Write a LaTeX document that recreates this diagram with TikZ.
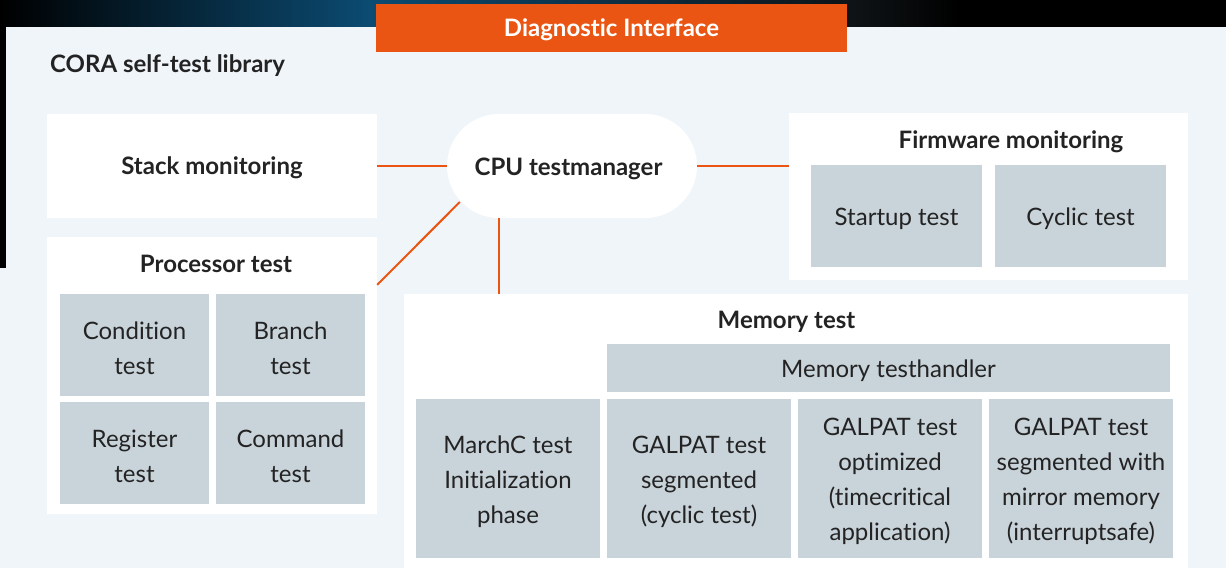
\documentclass[tikz,border=0pt]{standalone}
\usepackage{fontspec}
\setmainfont{Lato}[RawFeature={-liga,-dlig}]
\usetikzlibrary{calc,fit}
\definecolor{orng}{HTML}{EA5513}
\definecolor{panel}{HTML}{F0F5FA}
\definecolor{greyb}{HTML}{C8D3DA}
\definecolor{txt}{HTML}{232323}
\definecolor{blu}{HTML}{0C4B72}
\definecolor{dk}{HTML}{0E1215}
\begin{document}
\begin{tikzpicture}[x=1pt,y=-1pt,
  every node/.style={text=txt, font=\fontsize{24}{35}\selectfont},
  wbox/.style={fill=white, inner sep=0pt},
  gbox/.style={fill=greyb, inner sep=0pt},
  lbl/.style={inner sep=0pt, align=center, yshift=-3pt},
  ttl/.style={font=\fontsize{24}{35}\selectfont\bfseries, anchor=base, inner sep=0pt},
  conn/.style={draw=orng, line width=2pt}]
\useasboundingbox (0,0) rectangle (1226,568);
% background
\shade[left color=black, right color=blu] (0,0) rectangle (370,27);
\shade[left color=blu, right color=dk] (370,0) rectangle (860,27);
\shade[left color=dk, right color=black] (860,0) rectangle (960,27);
\fill[black] (960,0) rectangle (1226,27);
\fill[panel] (0,27) rectangle (1226,568);
\fill[black] (0,27) rectangle (6,268);
% header
\node[fill=orng, inner sep=0pt, fit={(376,4)(847,52)}] (diag) {};
\node[ttl, text=white] (diagt) at (611.5,36) {Diagnostic Interface};
\node[ttl, anchor=base west] (lib) at (50,72) {CORA self-test library};
% stack monitoring
\node[wbox, fit={(47,114)(377,218)}] (stack) {};
\node[ttl] (stackt) at (212,174.5) {Stack monitoring};
% CPU testmanager
\node[wbox, rounded corners=52pt, minimum width=250pt, minimum height=104pt] (cpu) at (572,166) {};
\node[ttl] (cput) at (568.5,175.5) {CPU testmanager};
% firmware monitoring
\node[wbox, fit={(789,113)(1188,280)}] (fw) {};
\node[ttl] (fwt) at (1011,148) {Firmware monitoring};
\node[gbox, fit={(811,165)(982,267)}] (st) {};
\node[lbl] at (st) {Startup test};
\node[gbox, fit={(995,165)(1166,267)}] (cy) {};
\node[lbl] at (cy) {Cyclic test};
% processor test
\node[wbox, fit={(47,237)(377,514)}] (proc) {};
\node[ttl] (proct) at (216,272) {Processor test};
\node[gbox, fit={(60,294)(209,396)}] (cond) {};
\node[lbl] at (cond) {Condition\\test};
\node[gbox, fit={(216,294)(365,396)}] (bra) {};
\node[lbl] at (bra) {Branch\\test};
\node[gbox, fit={(60,402)(209,504)}] (reg) {};
\node[lbl] at (reg) {Register\\test};
\node[gbox, fit={(216,402)(365,504)}] (cmd) {};
\node[lbl] at (cmd) {Command\\test};
% memory test
\node[wbox, fit={(404,294)(1188,570)}] (mem) {};
\node[ttl] (memt) at (786.5,328) {Memory test};
\node[gbox, fit={(607,344)(1170,392)}] (hand) {};
\node[lbl] at (hand) {Memory testhandler};
\node[gbox, fit={(416,399)(600,558)}] (march) {};
\node[lbl] at (march) {MarchC test\\Initialization\\phase};
\node[gbox, fit={(607,399)(791,558)}] (gseg) {};
\node[lbl] at (gseg) {GALPAT test\\segmented\\(cyclic test)};
\node[gbox, fit={(798,399)(982,558)}] (gopt) {};
\node[lbl] at (gopt) {GALPAT test\\optimized\\(timecritical\\application)};
\node[gbox, fit={(989,399)(1173,558)}] (gmir) {};
\node[lbl] at (gmir) {GALPAT test\\segmented with\\mirror memory\\(interruptsafe)};
% connectors
\coordinate (cpul) at ($(cpu.west)+(52,0)$);
\draw[conn] (stack.east) -- (cpu.west);
\draw[conn] (cpu.east) -- (cpu.east -| fw.west);
\draw[conn] ($(cpul)+(-39,36)$) -- ($(proc.north east)+(0,48)$);
\draw[conn] (cpul |- cpu.south) -- (cpul |- mem.north);
\end{tikzpicture}
\end{document}
